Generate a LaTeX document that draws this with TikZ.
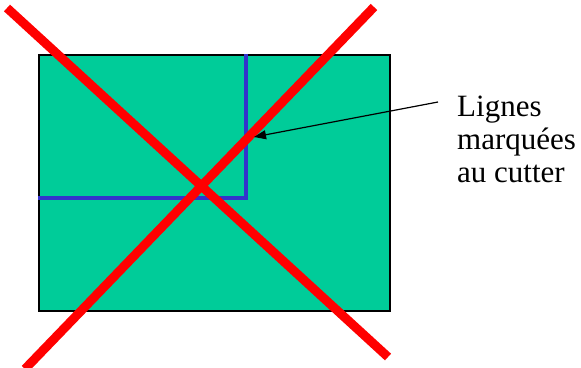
\documentclass[tikz,border=0pt]{standalone}
\usepackage{fontspec}
\setmainfont{Liberation Serif}
\usetikzlibrary{arrows.meta}
\definecolor{boardgreen}{HTML}{00CC99}
\definecolor{cutblue}{HTML}{3333CC}
\tikzset{
  board/.style={fill=boardgreen, draw=black, line width=2pt},
  cutline/.style={draw=cutblue, line width=4pt},
  cross/.style={draw=red, line width=9pt, line cap=butt},
  pointer/.style={draw=black, line width=1.2pt, -{Triangle[length=12pt,width=9pt]}},
  label/.style={font=\fontsize{31}{33}\selectfont, align=left, anchor=north west, inner sep=0pt}
}
\begin{document}
\begin{tikzpicture}[x=1pt,y=-1pt]
  \useasboundingbox (0,0) rectangle (581,367);
  \node[board, minimum width=351pt, minimum height=256pt, inner sep=0pt, anchor=north west] (panel) at (38,54) {};
  \coordinate (vtop) at (246,54);
  \coordinate (corner) at (246,198);
  \coordinate (hleft) at (38,198);
  \draw[cutline] (vtop) -- (corner) -- (hleft);
  \coordinate (c1a) at (7,8);
  \coordinate (c1b) at (388,357);
  \coordinate (c2a) at (374,7);
  \coordinate (c2b) at (25,369);
  \draw[cross] (c1a) -- (c1b);
  \draw[cross] (c2a) -- (c2b);
  \node[label] (txt) at (457,96) {Lignes\\marquées\\au cutter};
  \coordinate (tail) at (438,102);
  \coordinate (tip) at (254,137);
  \draw[pointer] (tail) -- (tip);
\end{tikzpicture}
\end{document}
